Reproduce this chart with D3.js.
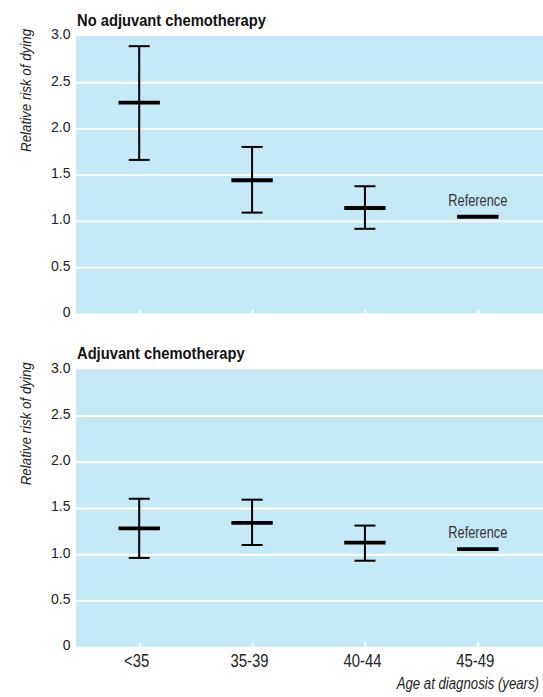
<!DOCTYPE html>
<html><head><meta charset="utf-8">
<script src="https://cdn.jsdelivr.net/npm/d3@7"></script>
<style>body{margin:0;background:#fff}</style>
</head><body>
<svg id="c" width="543" height="697"></svg>
<script>
const categories = ["<35","35-39","40-44","45-49"];
const panelTitles = ["No adjuvant chemotherapy","Adjuvant chemotherapy"];
const yTicks = [0,0.5,1.0,1.5,2.0,2.5,3.0];
// Panel 1: no adjuvant chemotherapy (last category is the reference)
const noAdjMean  = [2.28, 1.44, 1.14, 1.045];
const noAdjLower = [1.66, 1.09, 0.915, null];
const noAdjUpper = [2.89, 1.80, 1.375, null];
// Panel 2: adjuvant chemotherapy
const adjMean  = [1.28, 1.34, 1.125, 1.055];
const adjLower = [0.96, 1.10, 0.93, null];
const adjUpper = [1.60, 1.59, 1.31, null];
const referenceLabel = "Reference";
const yTitle = "Relative risk of dying";
const xTitle = "Age at diagnosis (years)";

const svg = d3.select("#c");
const FF = "'Liberation Sans', Arial, sans-serif";
// horizontally condense text to mimic a condensed face (text stays real text)
function condense(sel, f){
  sel.each(function(){
    const n = this; const w = n.getComputedTextLength();
    d3.select(n).attr("textLength", w*f).attr("lengthAdjust", "spacingAndGlyphs");
  });
}

const L = 76, R = 543, PH = 277.4;
const tops = [36, 369.3];
const x = d3.scalePoint().domain(categories).range([L, 541]).padding(0.56);
const panels = [
  {mean: noAdjMean, lo: noAdjLower, hi: noAdjUpper},
  {mean: adjMean, lo: adjLower, hi: adjUpper}
];

panels.forEach((p, i) => {
  const top = tops[i];
  const y = d3.scaleLinear().domain([0,3]).range([top+PH, top]);
  const g = svg.append("g");
  g.append("rect").attr("x", L).attr("y", top).attr("width", R-L).attr("height", PH).attr("fill", "#c6e9f8");
  // gridlines
  const grid = g.append("g").attr("transform", `translate(${L},0)`)
    .call(d3.axisLeft(y).tickValues(yTicks.filter(v => v>0 && v<3)).tickSize(-(R-L)).tickFormat(""));
  grid.select(".domain").remove();
  grid.selectAll("line").attr("stroke", "#fff").attr("stroke-width", 1.8);
  // y labels
  const ya = g.append("g").attr("transform", `translate(${L},0)`)
    .call(d3.axisLeft(y).tickValues(yTicks).tickSize(0).tickPadding(5.5).tickFormat(v => v===0 ? "0" : d3.format(".1f")(v)));
  ya.select(".domain").remove();
  ya.selectAll("text").attr("font-family", FF).attr("font-size", 14.8).attr("fill", "#222").attr("dy", "0.2em").call(condense, 0.95);
  // white tick marks at bottom
  const tk = g.append("g").attr("transform", `translate(0,${top+PH})`)
    .call(d3.axisTop(x).tickSize(4).tickFormat(""));
  tk.select(".domain").remove();
  tk.selectAll("line").attr("stroke", "#fff").attr("stroke-width", 1.8);
  // title
  g.append("text").attr("x", 77).attr("y", top-10.5).text(panelTitles[i])
    .attr("font-family", FF).attr("font-size", 16).attr("font-weight", "bold").attr("fill", "#111").call(condense, 0.92);
  // y axis title
  g.append("text").attr("transform", `translate(31,${top+116}) rotate(-90)`).text(yTitle)
    .attr("font-family", FF).attr("font-size", 14.5).attr("font-style", "italic").attr("fill", "#222").call(condense, 0.92);
  // error bars
  categories.forEach((c, j) => {
    const cx = x(c);
    if (p.lo[j] != null){
      g.append("line").attr("x1", cx).attr("x2", cx).attr("y1", y(p.lo[j])).attr("y2", y(p.hi[j])).attr("stroke", "#000").attr("stroke-width", 2);
      [p.lo[j], p.hi[j]].forEach(v => g.append("line").attr("x1", cx-10.5).attr("x2", cx+10.5).attr("y1", y(v)).attr("y2", y(v)).attr("stroke", "#000").attr("stroke-width", 2));
    } else {
      g.append("text").attr("x", cx).attr("y", y(p.mean[j]) - 10.7).attr("text-anchor", "middle").text(referenceLabel)
        .attr("font-family", FF).attr("font-size", 16.5).attr("fill", "#333").call(condense, 0.775);
    }
    g.append("line").attr("x1", cx-20.7).attr("x2", cx+20.7).attr("y1", y(p.mean[j])).attr("y2", y(p.mean[j])).attr("stroke", "#000").attr("stroke-width", 3.8);
  });
  if (i === 1){
    const xa = g.append("g").attr("transform", `translate(-3,${top+PH})`)
      .call(d3.axisBottom(x).tickSize(0).tickPadding(7.5));
    xa.select(".domain").remove();
    xa.selectAll("text").attr("font-family", FF).attr("font-size", 17.5).attr("fill", "#222").call(condense, 0.85);
  }
});
svg.append("text").attr("transform", "translate(539,689) scale(0.8,1)").attr("text-anchor", "end").text(xTitle)
  .attr("font-family", FF).attr("font-size", 16.5).attr("font-style", "italic").attr("fill", "#222");
</script>
</body></html>
